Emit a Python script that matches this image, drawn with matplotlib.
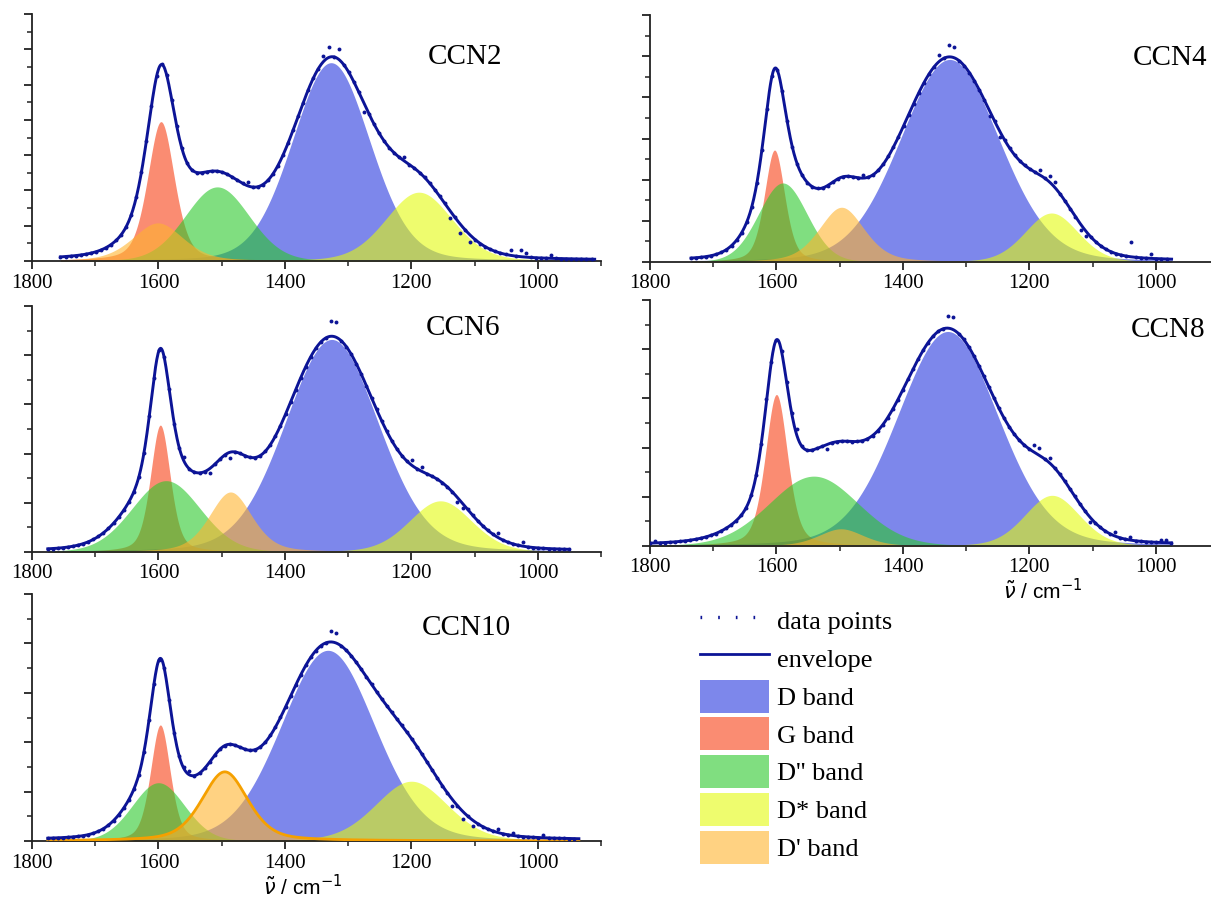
import numpy as np
import matplotlib
matplotlib.use("Agg")
import matplotlib.pyplot as plt
from matplotlib.patches import Patch
from matplotlib.lines import Line2D
from matplotlib.ticker import MultipleLocator

# ---------------------------------------------------------------
# Raman band deconvolution of the CCN samples
# band order in every list: D, G, D'', D*, D'
# ---------------------------------------------------------------
samples = ["CCN2", "CCN4", "CCN6", "CCN8", "CCN10"]
band_labels = ["D band", "G band", "D'' band", "D* band", "D' band"]

ccn2_center = [1327, 1596, 1507, 1188, 1601]
ccn2_height = [5.62, 3.95, 2.10, 1.95, 1.08]
ccn2_fwhm = [145, 50, 120, 125, 95]

ccn4_center = [1326, 1603, 1590, 1165, 1497]
ccn4_height = [4.92, 2.72, 1.92, 1.19, 1.33]
ccn4_fwhm = [185, 38, 91, 100, 85]

ccn6_center = [1326, 1597, 1588, 1154, 1486]
ccn6_height = [4.32, 2.58, 1.45, 1.04, 1.22]
ccn6_fwhm = [175, 37, 128, 117, 80]

ccn8_center = [1329, 1600, 1541, 1164, 1498]
ccn8_height = [4.36, 3.08, 1.42, 1.03, 0.35]
ccn8_fwhm = [188, 42, 167, 103, 85]

ccn10_center = [1332, 1597, 1600, 1200, 1495]
ccn10_height = [3.86, 2.35, 1.18, 1.21, 1.40]
ccn10_fwhm = [175, 37, 98, 135, 86]

# Lorentzian fraction of each pseudo-Voigt band (D, G, D'', D*, D')
band_eta = [0.15, 0.4, 0.1, 0.2, 0.4]

# measured range of each spectrum (cm-1)
spec_start = [1755, 1735, 1775, 1800, 1775]
spec_end = [910, 975, 950, 975, 935]

# points where the measured spectrum leaves the fitted envelope (cm-1, offset)
ccn2_dev = [(1340, 0.15), (1330, 0.30), (1318, 0.28), (1274, -0.25), (1210, 0.12),
            (1138, -0.20), (1122, -0.25), (1106, -0.20), (1045, 0.15), (1030, 0.18),
            (1018, 0.12), (980, 0.10), (1462, 0.10)]
ccn4_dev = [(1340, 0.15), (1328, 0.30), (1318, 0.25), (1265, -0.12), (1250, -0.15),
            (1180, 0.12), (1170, 0.15), (1155, 0.15), (1120, -0.15), (1112, -0.12),
            (1042, 0.20), (1036, 0.15), (1005, 0.10), (1460, 0.08)]
ccn6_dev = [(1330, 0.30), (1320, 0.30), (1612, 0.05), (1558, 0.10), (1522, -0.08),
            (1490, -0.12), (1200, 0.12), (1186, 0.10), (1130, -0.10), (1118, -0.10),
            (1064, 0.10), (1020, 0.08)]
ccn8_dev = [(1330, 0.25), (1320, 0.25), (1612, 0.08), (1570, 0.12), (1520, -0.10),
            (1195, 0.15), (1185, 0.15), (1170, 0.10), (1100, -0.10), (1060, 0.08),
            (1040, 0.06), (990, 0.05), (980, 0.05), (1790, 0.05)]
ccn10_dev = [(1330, 0.22), (1320, 0.20), (1560, 0.06), (1548, 0.08), (1135, -0.12),
             (1120, -0.15), (1106, -0.12), (1060, 0.08), (1040, 0.06), (990, 0.05)]

y_top = [7, 6, 5, 5, 5]

centers = [ccn2_center, ccn4_center, ccn6_center, ccn8_center, ccn10_center]
heights = [ccn2_height, ccn4_height, ccn6_height, ccn8_height, ccn10_height]
widths = [ccn2_fwhm, ccn4_fwhm, ccn6_fwhm, ccn8_fwhm, ccn10_fwhm]
deviations = [ccn2_dev, ccn4_dev, ccn6_dev, ccn8_dev, ccn10_dev]

# fill colours (drawn semi-transparent) and stacking order
band_colors = ["#2637de", "#f73f15", "#2bc82b", "#e3fa0d", "#ffb42f"]
band_alpha = 0.6
draw_order = [0, 1, 2, 3, 4]
line_color = "#0c1496"

W, H = 1211, 900
# axes boxes in pixels: left, right, top, bottom
boxes = [(32, 601, 14, 261), (650, 1219, 15, 262),
         (32, 601, 306, 552), (650, 1219, 300, 546),
         (32, 601, 594, 841)]
label_pos = [(465, 57), (1170, 58), (463, 328), (1168, 330), (466, 628)]

serif = ["Liberation Serif", "DejaVu Serif"]
plt.rcParams["font.family"] = serif
plt.rcParams["mathtext.fontset"] = "dejavusans"


def pseudo_voigt(x, c, h, w, eta):
    g = np.exp(-4 * np.log(2) * (x - c) ** 2 / w ** 2)
    l = 1.0 / (1.0 + 4 * (x - c) ** 2 / w ** 2)
    return h * ((1 - eta) * g + eta * l)


fig = plt.figure(figsize=(W / 100, H / 100), dpi=100)

for i, name in enumerate(samples):
    l, r, t, b = boxes[i]
    ax = fig.add_axes([l / W, 1 - b / H, (r - l) / W, (b - t) / H])
    ax.set_xlim(1800, 900)
    ax.set_ylim(0, y_top[i])

    x = np.linspace(spec_start[i], spec_end[i], 800)
    bands = [pseudo_voigt(x, centers[i][k], heights[i][k], widths[i][k], band_eta[k])
             for k in range(5)]
    for k in draw_order:
        ax.fill_between(x, 0, bands[k], color=band_colors[k], alpha=band_alpha,
                        lw=0, zorder=2)
    if name == "CCN10":
        ax.plot(x, bands[4], color="#f5a000", lw=2.0, zorder=3)

    envelope = np.sum(bands, axis=0)
    ax.plot(x, envelope, color=line_color, lw=2.1, zorder=4)

    # measured points, every 8 cm-1
    xd = np.arange(spec_start[i], spec_end[i], -8.0)
    yd = np.sum([pseudo_voigt(xd, centers[i][k], heights[i][k], widths[i][k], band_eta[k])
                 for k in range(5)], axis=0)
    for pos, dv in deviations[i]:
        j = np.argmin(np.abs(xd - pos))
        yd[j] += dv
    ax.plot(xd, yd, ls="none", marker="o", ms=2.8, mew=0, color=line_color, zorder=5)

    for side in ("top", "right"):
        ax.spines[side].set_visible(False)
    for side in ("left", "bottom"):
        ax.spines[side].set_linewidth(1.3)
        ax.spines[side].set_color("#222222")
    ax.xaxis.set_major_locator(MultipleLocator(200))
    ax.xaxis.set_minor_locator(MultipleLocator(100))
    ax.yaxis.set_major_locator(MultipleLocator(1))
    ax.yaxis.set_minor_locator(MultipleLocator(0.5))
    ax.tick_params(axis="both", which="major", direction="out", length=6, width=1.3,
                   color="#222222", labelsize=15, pad=3)
    ax.tick_params(axis="both", which="minor", direction="out", length=3.5, width=1.1,
                   color="#222222")
    ax.tick_params(axis="y", labelleft=False)
    ax.patch.set_alpha(0)

    fig.text(label_pos[i][0] / W, 1 - label_pos[i][1] / H, name, ha="center",
             va="center", fontsize=21, family=serif)

xlabel = r"$\tilde{\nu}$ / cm$^{-1}$"
fig.text(1043 / W, 1 - 591 / H, xlabel, ha="center", va="center", fontsize=15,
         family=["Liberation Sans", "DejaVu Sans"])
fig.text(303 / W, 1 - 887 / H, xlabel, ha="center", va="center", fontsize=15,
         family=["Liberation Sans", "DejaVu Sans"])

handles = [Line2D([], [], color=line_color, ls=(0, (0.5, 4.8)), lw=2.4),
           Line2D([], [], color=line_color, lw=2.0)]
handles += [Patch(facecolor=band_colors[k], alpha=band_alpha, edgecolor="none")
            for k in range(5)]
labels = ["data points", "envelope"] + band_labels
fig.legend(handles, labels, loc="upper left", bbox_to_anchor=(700 / W, 1 - 604 / H),
           frameon=False, handlelength=2.6, handleheight=1.55,
           labelspacing=0.18, handletextpad=0.3, borderpad=0, borderaxespad=0,
           prop={"family": serif, "size": 19})

fig.savefig("out.png", dpi=100)
